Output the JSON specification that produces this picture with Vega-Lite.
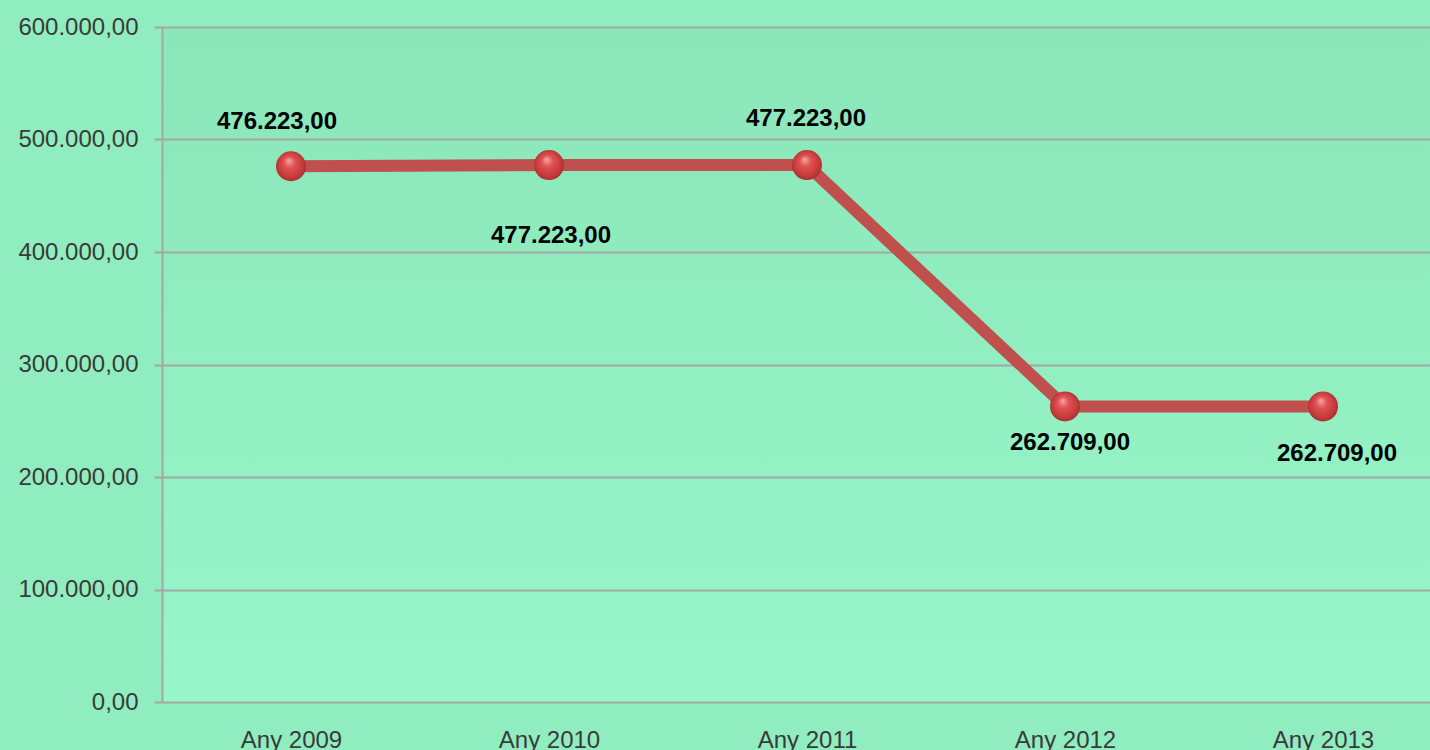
{
  "$schema": "https://vega.github.io/schema/vega-lite/v6.json",
  "width": 1268,
  "height": 675,
  "autosize": {"type": "none"},
  "padding": {"left": 162, "top": 27, "right": 0, "bottom": 48},
  "background": "#90edc0",
  "config": {
    "locale": {"number": {"decimal": ",", "thousands": ".", "grouping": [3], "currency": ["", " €"]}},
    "view": {"stroke": null, "fill": {"gradient": "linear", "x1": 0, "y1": 0, "x2": 0, "y2": 1, "stops": [{"offset": 0, "color": "#8be6b9"}, {"offset": 1, "color": "#97f7ca"}]}},
    "font": "Liberation Sans"
  },
  "data": {
    "values": [
      {"year": 2009, "value": 476223},
      {"year": 2010, "value": 477223},
      {"year": 2011, "value": 477223},
      {"year": 2012, "value": 262709},
      {"year": 2013, "value": 262709}
    ]
  },
  "encoding": {
    "x": {
      "field": "year", "type": "quantitative",
      "scale": {"domain": [2008.5, 2013.4147], "nice": false, "zero": false},
      "axis": {"title": null, "values": [2009, 2010, 2011, 2012, 2013], "labelExpr": "'Any ' + datum.value", "domain": false, "ticks": false, "tickSize": 0, "grid": false, "labelAngle": 0, "labelPadding": 26, "labelFont": "Liberation Sans", "labelFontSize": 24, "labelColor": "#3a3a3a", "labelBaseline": "top", "labelFlush": false, "labelOverlap": false}
    },
    "y": {
      "field": "value", "type": "quantitative",
      "scale": {"domain": [0, 600000], "nice": false},
      "axis": {"title": null, "values": [0, 100000, 200000, 300000, 400000, 500000, 600000], "format": ",.2f", "grid": true, "gridColor": "#a6a6a6", "gridWidth": 2, "tickColor": "#a6a6a6", "tickWidth": 2, "tickSize": 8, "domainColor": "#a6a6a6", "domainWidth": 2, "labelPadding": 16, "labelFont": "Liberation Sans", "labelFontSize": 24, "labelColor": "#3a3a3a"}
    }
  },
  "layer": [
    {"mark": {"type": "line", "color": "#c0504d", "strokeWidth": 12}},
    {"mark": {"type": "point", "filled": true, "opacity": 1, "size": 900, "shape": "circle", "strokeWidth": 0,
      "fill": {"gradient": "radial", "x1": 0.42, "y1": 0.3, "r1": 0, "x2": 0.5, "y2": 0.5, "r2": 0.55, "stops": [{"offset": 0, "color": "#f7a5a5"}, {"offset": 0.35, "color": "#e05252"}, {"offset": 0.8, "color": "#c23838"}, {"offset": 1, "color": "#9a2a2a"}]}}},
    {"transform": [{"filter": "datum.year == 2009"}], "mark": {"type": "text", "fontWeight": "bold", "fontSize": 24, "color": "#000000", "baseline": "middle", "dx": -14, "dy": -44}, "encoding": {"text": {"field": "value", "type": "quantitative", "format": ",.2f"}}},
    {"transform": [{"filter": "datum.year == 2010"}], "mark": {"type": "text", "fontWeight": "bold", "fontSize": 24, "color": "#000000", "baseline": "middle", "dx": 2, "dy": 71}, "encoding": {"text": {"field": "value", "type": "quantitative", "format": ",.2f"}}},
    {"transform": [{"filter": "datum.year == 2011"}], "mark": {"type": "text", "fontWeight": "bold", "fontSize": 24, "color": "#000000", "baseline": "middle", "dx": -1, "dy": -46}, "encoding": {"text": {"field": "value", "type": "quantitative", "format": ",.2f"}}},
    {"transform": [{"filter": "datum.year == 2012"}], "mark": {"type": "text", "fontWeight": "bold", "fontSize": 24, "color": "#000000", "baseline": "middle", "dx": 5, "dy": 37}, "encoding": {"text": {"field": "value", "type": "quantitative", "format": ",.2f"}}},
    {"transform": [{"filter": "datum.year == 2013"}], "mark": {"type": "text", "fontWeight": "bold", "fontSize": 24, "color": "#000000", "baseline": "middle", "dx": 14, "dy": 48}, "encoding": {"text": {"field": "value", "type": "quantitative", "format": ",.2f"}}}
  ]
}
